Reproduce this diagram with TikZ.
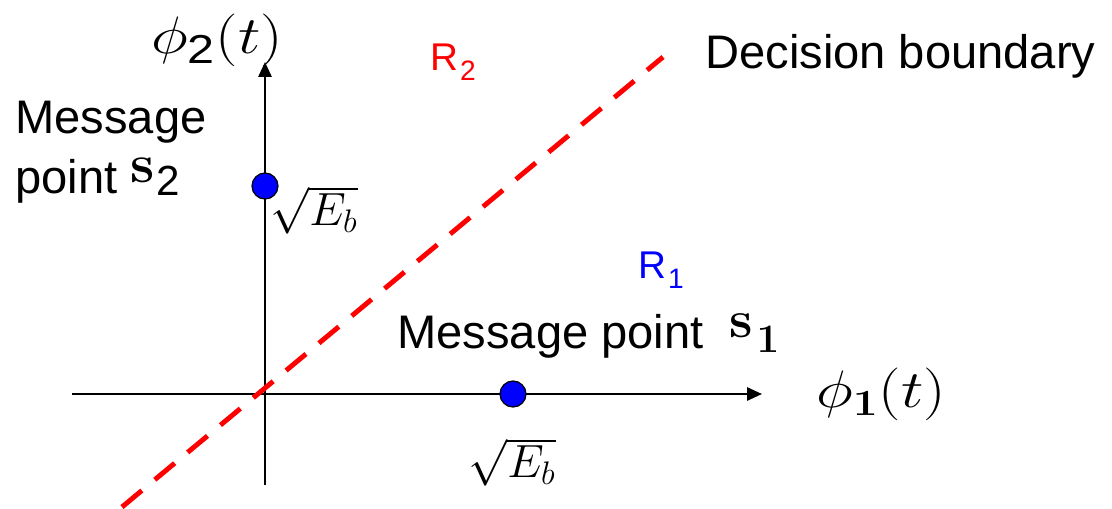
\documentclass[tikz,border=0pt]{standalone}
\usepackage{fix-cm}
\usepackage{amsmath}
\usepackage[no-math]{fontspec}
\newfontfamily\arial{Liberation Sans}
\usetikzlibrary{arrows.meta}
\begin{document}
\begin{tikzpicture}[x=0.02cm,y=-0.02cm,
  axis/.style={line width=1.3pt, -{Triangle[length=8.5pt,width=7.5pt]}},
  bound/.style={red, line width=2.8pt, dash pattern=on 14.7pt off 9.6pt},
  dot/.style={circle, fill=blue, draw=black, line width=0.7pt, minimum size=14.8pt, inner sep=0pt},
  txt/.style={font=\arial\fontsize{26.8}{32}\selectfont, inner sep=0pt},
  lab/.style={font=\fontsize{30}{34}\selectfont, inner sep=0pt},
  rt/.style={font=\fontsize{26.5}{30}\selectfont, inner sep=0pt},
  reg/.style={font=\arial\fontsize{22}{26}\selectfont, inner sep=0pt}]
\useasboundingbox (0,0) rectangle (1112,508);
% axes
\coordinate (xl) at (72,394);
\coordinate (xr) at (762,394);
\coordinate (yb) at (265,485);
\coordinate (yt) at (265,62);
\draw[axis] (xl) -- (xr);
\draw[axis] (yb) -- (yt);
% decision boundary
\coordinate (b1) at (122,507);
\coordinate (b2) at (663,57);
\draw[bound] (b1) -- (b2);
% message points
\node[dot] (s2) at (265,186) {};
\node[dot] (s1) at (513,394) {};
% axis labels
\node[lab] (phi2) at (217,40) {\scalebox{1.2}[1]{$\phi_{\mbox{\arial\fontsize{23}{23}\selectfont 2}}(t)$}};
\node[lab] (phi1) at (881,394) {\scalebox{1.2}[1]{$\phi_{\mathbf{1}}(t)$}};
% regions
\node[reg, text=red] (r2) at (453,62) {R\hspace{1pt}\raisebox{-6pt}{\fontsize{16}{16}\selectfont 2}};
\node[reg, text=blue] (r1) at (661,270) {R\hspace{1pt}\raisebox{-6pt}{\fontsize{16}{16}\selectfont 1}};
% texts
\node[txt, anchor=base west] (db) at (705,68) {Decision boundary};
\node[txt, anchor=base west] (m2a) at (15,133) {Message};
\node[txt, anchor=base west] (m2b) at (15,193) {point \raisebox{6pt}{\fontsize{31}{34}\selectfont$\mathbf{s}$}\hspace{1pt}\raisebox{-1.5pt}{\fontsize{24}{24}\selectfont 2}};
\node[txt, anchor=base west] (m1) at (397,348) {Message point\ \ \raisebox{6pt}{\fontsize{30}{34}\selectfont$\mathbf{s}$}\hspace{2pt}\raisebox{-2.3pt}{\fontsize{23}{24}\selectfont$\mathbf{1}$}};
% coordinates
\node[rt] (e2) at (314,210) {$\sqrt{E_b}$};
\node[rt] (e1) at (512,462) {$\sqrt{E_b}$};
\end{tikzpicture}
\end{document}
